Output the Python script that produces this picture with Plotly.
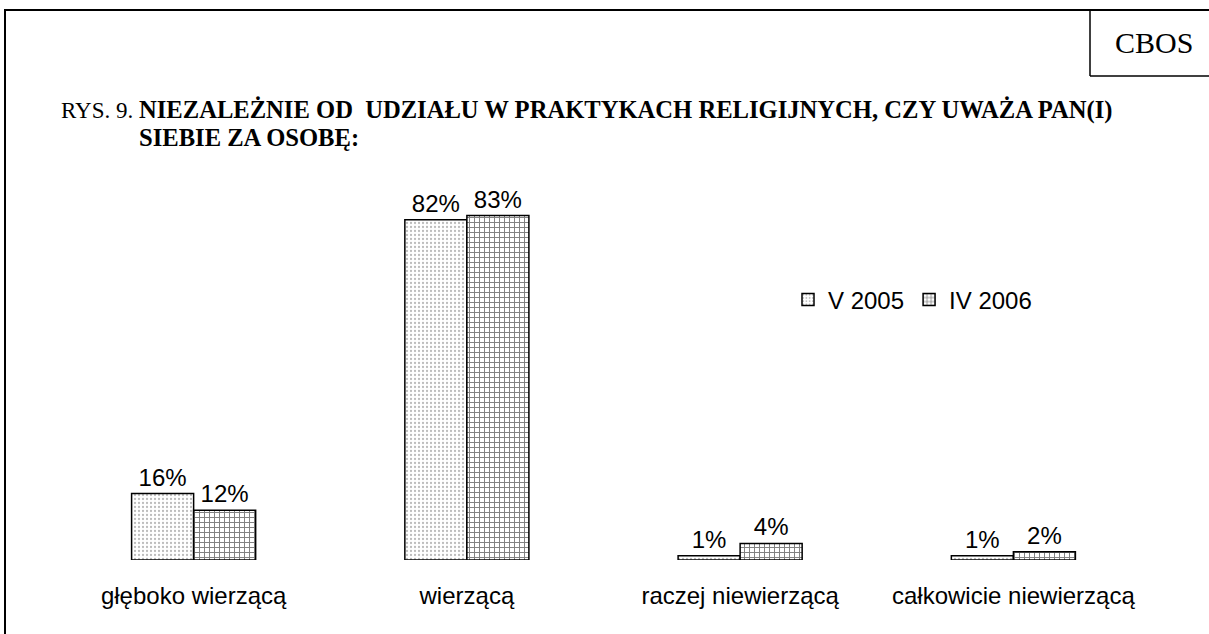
import plotly.graph_objects as go

categories = ["głęboko wierzącą", "wierzącą", "raczej niewierzącą", "całkowicie niewierzącą"]
series_names = ["V 2005", "IV 2006"]
v2005 = [16, 82, 1, 1]
iv2006 = [12, 83, 4, 2]

W, H = 1209, 634
L, R, T, B = 57, 59, 145, 74
YMAX = 100

def px(x):
    return (x - L) / (W - L - R)

def py(y):
    return (H - B - y) / (H - T - B)

SANS = "Arial, Liberation Sans"
SERIF = "Times New Roman, Liberation Serif"

fig = go.Figure()
fig.add_trace(go.Bar(
    x=categories, y=v2005, name=series_names[0],
    text=[f"{v}%" for v in v2005], textposition="outside", cliponaxis=False,
    textfont=dict(family=SANS, size=24, color="black"),
    marker=dict(color="white", line=dict(color="black", width=1.5),
                pattern=dict(shape=".", fgcolor="#777777", bgcolor="white", size=4, solidity=0.25)),
))
fig.add_trace(go.Bar(
    x=categories, y=iv2006, name=series_names[1],
    text=[f"{v}%" for v in iv2006], textposition="outside", cliponaxis=False,
    textfont=dict(family=SANS, size=24, color="black"),
    marker=dict(color="white", line=dict(color="black", width=1.5),
                pattern=dict(shape="+", fgcolor="black", bgcolor="white", size=5, solidity=0.35)),
))

shapes = [
    dict(type="line", xref="paper", yref="paper", x0=px(5), x1=px(1215), y0=py(10), y1=py(10),
         line=dict(color="black", width=2)),
    dict(type="line", xref="paper", yref="paper", x0=px(5), x1=px(5), y0=py(9), y1=py(640),
         line=dict(color="black", width=2)),
    dict(type="line", xref="paper", yref="paper", x0=px(1090), x1=px(1090), y0=py(10), y1=py(76),
         line=dict(color="black", width=1.5)),
    dict(type="line", xref="paper", yref="paper", x0=px(1090), x1=px(1215), y0=py(76), y1=py(76),
         line=dict(color="black", width=1.5)),
]

annotations = [
    dict(text="CBOS", xref="paper", yref="paper", x=px(1154), y=py(43), showarrow=False,
         font=dict(family=SERIF, size=30, color="black"),
         xanchor="center", yanchor="middle"),
    dict(text="RYS. 9.", xref="paper", yref="paper", x=px(59), y=py(110), showarrow=False,
         font=dict(family=SERIF, size=23, color="black"),
         xanchor="left", yanchor="middle"),
    dict(text="<b>NIEZALEŻNIE OD  UDZIAŁU W PRAKTYKACH RELIGIJNYCH, CZY UWAŻA PAN(I)</b>",
         xref="paper", yref="paper", x=px(137), y=py(110), showarrow=False,
         font=dict(family=SERIF, size=24.6, color="black"),
         xanchor="left", yanchor="middle"),
    dict(text="<b>SIEBIE ZA OSOBĘ:</b>",
         xref="paper", yref="paper", x=px(137), y=py(138), showarrow=False,
         font=dict(family=SERIF, size=24.6, color="black"),
         xanchor="left", yanchor="middle"),
]

fig.update_layout(
    width=W, height=H,
    margin=dict(l=L, r=R, t=T, b=B, pad=0),
    paper_bgcolor="white", plot_bgcolor="white",
    barmode="group", bargap=0.546, bargroupgap=0,
    showlegend=True,
    legend=dict(orientation="h", x=px(788), y=py(300), xanchor="left", yanchor="middle",
                font=dict(family=SANS, size=24, color="black"),
                bgcolor="rgba(0,0,0,0)", itemwidth=30, traceorder="normal"),
    xaxis=dict(showline=False, showgrid=False, ticks="", zeroline=False,
               ticklabelstandoff=19,
               tickfont=dict(family=SANS, size=24, color="black")),
    yaxis=dict(range=[0, YMAX], visible=False, showgrid=False, zeroline=False),
    shapes=shapes, annotations=annotations,
)

fig.write_html("out.html", config={"displayModeBar": False},
               post_script="document.body.style.margin='0px';document.body.style.overflow='hidden';")
